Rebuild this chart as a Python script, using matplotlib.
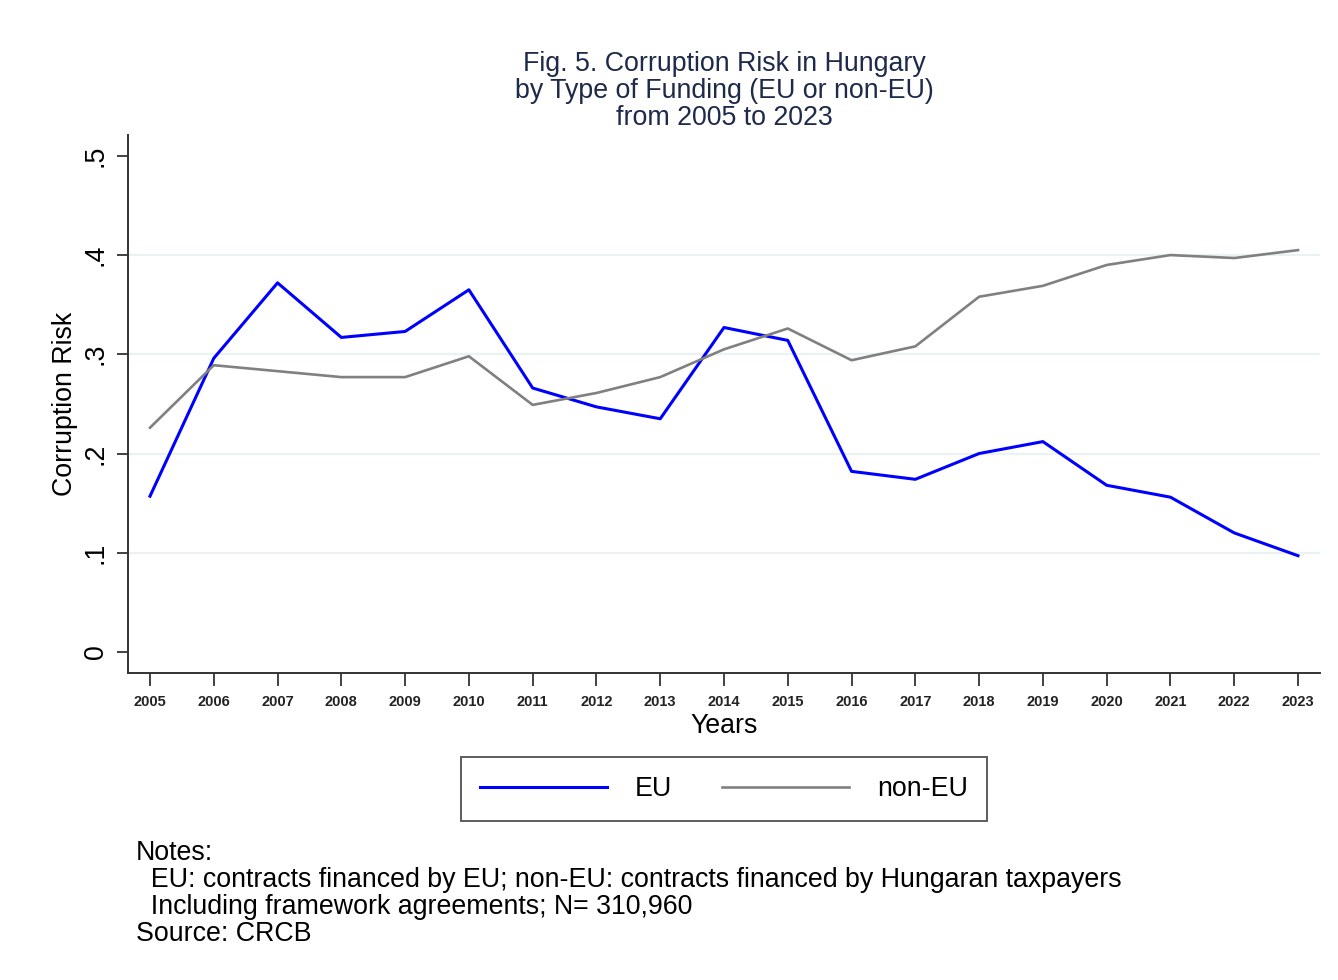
import numpy as np
import matplotlib.pyplot as plt

plt.rcParams['font.family'] = ['Liberation Sans', 'DejaVu Sans']

# donnees
years = list(range(2005, 2024))
eu = [0.157, 0.296, 0.372, 0.317, 0.323, 0.365, 0.266, 0.247, 0.235, 0.327,
      0.314, 0.182, 0.174, 0.200, 0.212, 0.168, 0.156, 0.120, 0.097]
non_eu = [0.226, 0.289, 0.283, 0.277, 0.277, 0.298, 0.249, 0.261, 0.277, 0.305,
          0.326, 0.294, 0.308, 0.358, 0.369, 0.390, 0.400, 0.397, 0.405]
yticks = [0, 0.1, 0.2, 0.3, 0.4, 0.5]
ytick_labels = ['0', '.1', '.2', '.3', '.4', '.5']

title = "Fig. 5. Corruption Risk in Hungary\nby Type of Funding (EU or non-EU)\nfrom 2005 to 2023"
notes = ("Notes:\n"
         "  EU: contracts financed by EU; non-EU: contracts financed by Hungaran taxpayers\n"
         "  Including framework agreements; N= 310,960\n"
         "Source: CRCB")

fs = 19.3

fig = plt.figure(figsize=(13.38, 9.8), dpi=100)
ax = fig.add_axes([128/1338, 1 - 673/980, (1320-128)/1338, (673-135)/980])

# grille horizontale (sans les extremes)
for v in yticks[1:-1]:
    ax.axhline(v, color='#eaf2f3', lw=1.6, zorder=0)

ax.plot(years, eu, color='#0000ff', lw=2.2, label='EU')
ax.plot(years, non_eu, color='#808080', lw=1.9, label='non-EU')

ax.set_xlim(2004.655, 2023.345)
ax.set_ylim(-0.0212, 0.521)
ax.set_xticks(years)
ax.set_xticklabels([str(y) for y in years], fontsize=10.5, fontweight='bold', color='#222222')
ax.set_yticks(yticks)
ax.set_yticklabels(ytick_labels, fontsize=fs, rotation=90, va='center')

for s in ['top', 'right']:
    ax.spines[s].set_visible(False)
for s in ['left', 'bottom']:
    ax.spines[s].set_linewidth(1.4)
    ax.spines[s].set_color('#333333')
ax.tick_params(axis='y', length=8, width=1.3, color='#333333', pad=6)
ax.tick_params(axis='x', length=9, width=1.3, color='#333333', pad=7)

ax.set_xlabel('Years', fontsize=fs, labelpad=3)
ax.set_ylabel('Corruption Risk', fontsize=fs, labelpad=3)

fig.text(724/1338, 1 - 51/980, title, ha='center', va='top', fontsize=fs,
         color='#1e2a4a', linespacing=1.04)

leg = fig.legend(loc='center', bbox_to_anchor=(724/1338, 1 - 789/980), ncol=2,
                 fontsize=fs, handlelength=4.75, handletextpad=1.05, columnspacing=1.85,
                 borderpad=0.7, borderaxespad=0, frameon=True, fancybox=False)
leg.get_frame().set_edgecolor('#333333')
leg.get_frame().set_linewidth(1.4)

fig.text(136/1338, 1 - 840/980, notes, ha='left', va='top', fontsize=fs,
         linespacing=1.05)

fig.savefig('out.png', dpi=100)
